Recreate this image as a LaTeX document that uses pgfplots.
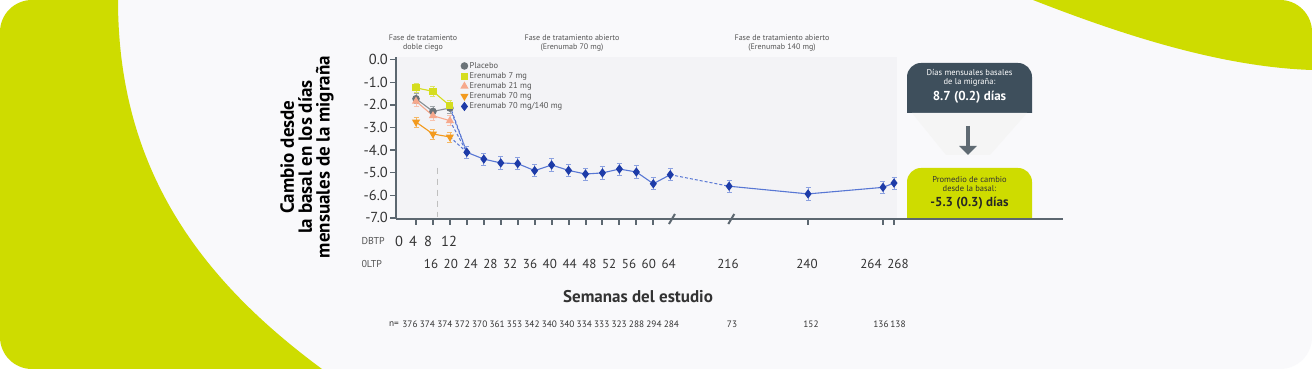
\documentclass[border=0pt]{standalone}
\usepackage{pgfplots}
\pgfplotsset{compat=1.18}
\usepackage{fontspec}
\setmainfont{PT Sans}
\usetikzlibrary{arrows.meta}
\definecolor{lime}{HTML}{CEDC00}
\definecolor{cardbg}{HTML}{F9F9FB}
\definecolor{plotbg}{HTML}{F3F3F6}
\definecolor{axisgray}{HTML}{5C6770}
\definecolor{darkbox}{HTML}{3E4F5C}
\definecolor{arrowgray}{HTML}{5F6A72}
\definecolor{txt}{HTML}{333333}
\definecolor{txtlight}{HTML}{555555}
\definecolor{placebo}{HTML}{6B7378}
\definecolor{placeboerr}{HTML}{A0A6AA}
\definecolor{sevenmg}{HTML}{D5DD1E}
\definecolor{sevenerr}{HTML}{DDE36A}
\definecolor{twentyone}{HTML}{F6A88C}
\definecolor{twentyoneerr}{HTML}{F8C2AE}
\definecolor{seventy}{HTML}{F29A1E}
\definecolor{seventyerr}{HTML}{F5B865}
\definecolor{bluemark}{HTML}{1D3BA8}
\definecolor{blueline}{HTML}{5877D4}
\definecolor{blueerr}{HTML}{8CA1E0}
\begin{document}
\begin{tikzpicture}
\begin{scope}[x=1pt,y=1pt]
\fill[white] (0,0) rectangle (1312,369);
\begin{scope}
\clip[rounded corners=32pt] (0,0) rectangle (1312,369);
\fill[cardbg] (0,0) rectangle (1312,369);
\fill[lime] (0,369) -- (118,369) .. controls (118,200) and (200,90) .. (322,0) -- (0,0) -- cycle;
\fill[lime] (1033,369) .. controls (1120,335) and (1220,302) .. (1312,299) -- (1312,369) -- cycle;
\end{scope}
\fill[plotbg] (396,150) rectangle (897,312);
% y label
\node[rotate=90, align=center, font=\fontsize{19}{17.8}\selectfont\bfseries, text=black] at (307,212) {Cambio desde\\la basal en los días\\mensuales de la migraña};
% phase titles
\begin{scope}[every node/.style={align=center, font=\fontsize{8}{8.6}\selectfont, text=txtlight}]
\node at (423,326) {Fase de tratamiento\\doble ciego};
\node at (572,326) {Fase de tratamiento abierto\\(Erenumab 70 mg)};
\node at (782,326) {Fase de tratamiento abierto\\(Erenumab 140 mg)};
\end{scope}
% x labels
\node[anchor=west, font=\fontsize{10}{10}\selectfont, text=txtlight] at (358,128) {DBTP};
\node[anchor=west, font=\fontsize{10}{10}\selectfont, text=txtlight] at (358,105) {0LTP};
\begin{scope}[every node/.style={font=\fontsize{14.5}{14.5}\selectfont, text=txt}]
\node at (399,128) {0};
\node at (413,128) {4};
\node at (428,128) {8};
\node at (449,128) {12};
\end{scope}
\begin{scope}[every node/.style={font=\fontsize{13}{13}\selectfont, text=txt}]
\foreach \v [count=\i from 0] in {16,20,24,28,32,36,40,44,48,52,56,60,64} {
  \node at ({431+19.8*\i},105) {\v};
}
\node at (728,105) {216};
\node at (807,105) {240};
\node at (871,105) {264};
\node at (898,105) {268};
\end{scope}
\node[font=\fontsize{17}{17}\selectfont\bfseries, text=txt] at (638,72) {Semanas del estudio};
\begin{scope}[every node/.style={font=\fontsize{9.3}{9.3}\selectfont, text=txt}]
\node at (394,45) {n=};
\foreach \v [count=\i from 0] in {376,374,374,372,370,361,353,342,340,340,334,333,323,288,294,284} {
  \node at ({410+17.43*\i},45) {\v};
}
\node at (732,45) {73};
\node at (811,45) {152};
\node at (881,45) {136};
\node at (898,45) {138};
\end{scope}
% boxes
\fill[darkbox] (907,256) [rounded corners=14pt]-- (907,306) -- (1032,306) [sharp corners]-- (1032,256) -- cycle;
\fill[black!4] (912,256) -- (1027,256) -- (990,214) -- (946,214) -- cycle;
\draw[arrowgray, line width=4.5pt, -{Triangle[width=17pt,length=9pt]}] (968,243) -- (968,214);
\fill[lime] (907,150) [rounded corners=14pt]-- (907,201) -- (1032,201) [sharp corners]-- (1032,150) -- cycle;
\node[align=center, text=white, font=\fontsize{8.5}{8.8}\selectfont] at (969.5,291) {Días mensuales basales\\de la migraña:};
\node[text=white, font=\fontsize{13}{13}\selectfont\bfseries] at (969.5,272) {8.7 (0.2) días};
\node[align=center, text=txt, font=\fontsize{8.5}{8.8}\selectfont] at (969.5,185) {Promedio de cambio\\desde la basal:};
\node[text=black!85, font=\fontsize{13}{13}\selectfont\bfseries] at (969.5,166) {-5.3 (0.3) días};
\end{scope}
\begin{axis}[
  at={(396pt,150pt)}, anchor=south west,
  scale only axis, width=667pt, height=161.6pt,
  xmin=-0.18, xmax=39.17, ymin=-7.05, ymax=0.1,
  axis x line*=bottom, axis y line*=left,
  axis line style={draw=axisgray, line width=2.4pt, -},
  xtick={1,2,3,4,5,6,7,8,9,10,11,12,13,14,15,24.13,28.55,29.2}, xticklabels={},
  ytick={0,-1,-2,-3,-4,-5,-6,-7},
  yticklabels={0.0,-1.0,-2.0,-3.0,-4.0,-5.0,-6.0,-7.0},
  yticklabel style={font=\fontsize{14.5}{14.5}\selectfont, text=txt, inner xsep=2pt},
  tick align=outside, major tick length=6pt,
  xtick style={draw=axisgray, line width=2pt},
  ytick style={draw=axisgray, line width=1.4pt},
  clip=false,
  legend cell align=left,
  legend style={at={(0.093,0.99)}, anchor=north west, draw=none, fill=none,
    font=\fontsize{8.5}{9}\selectfont, text=txtlight, row sep=0.6pt,
    nodes={inner ysep=1pt, inner xsep=2pt}},
  legend image code/.code={\draw[#1] plot coordinates {(0.12cm,0cm)};},
  error bars/y dir=both, error bars/y explicit,
]
% reference dashed line
\draw[black!25, line width=1pt, dash pattern=on 6pt off 5pt] (axis cs:2.25,-4.78) -- (axis cs:2.25,-6.95);
% break marks
\draw[axisgray, line width=2pt] ([xshift=-3pt,yshift=-5pt]axis cs:16.1,-7.05) -- ([xshift=3pt,yshift=5pt]axis cs:16.1,-7.05);
\draw[axisgray, line width=2pt] ([xshift=-3pt,yshift=-5pt]axis cs:19.6,-7.05) -- ([xshift=3pt,yshift=5pt]axis cs:19.6,-7.05);
% dashed connectors
\addplot[forget plot, blueline, line width=1pt, densely dashed] coordinates {(3,-2.04) (4,-4.10)};
\addplot[forget plot, blueline, line width=1pt, densely dashed] coordinates {(3,-2.14) (4,-4.10)};
\addplot[forget plot, blueline, line width=1pt, densely dashed] coordinates {(3,-2.70) (4,-4.10)};
\addplot[forget plot, blueline, line width=1pt, densely dashed] coordinates {(3,-3.42) (4,-4.10)};
\addplot[forget plot, blueline, line width=1pt, densely dashed] coordinates {(16,-5.09) (19.47,-5.60)};
% placebo
\addplot[color=placebo!80, line width=1.1pt, mark=*, mark size=3.2pt, mark options={fill=placebo, draw=placebo},
  error bars/error bar style={placeboerr, line width=0.8pt},
  error bars/error mark options={rotate=90, mark size=2.5pt, placeboerr, line width=0.8pt}]
  coordinates {(1,-1.73) +- (0,0.22) (2,-2.29) +- (0,0.22) (3,-2.14) +- (0,0.22)};
\addlegendentry{Placebo}
\addplot[color=sevenmg, line width=1.1pt, mark=square*, mark size=3pt, mark options={fill=sevenmg, draw=sevenmg},
  error bars/error bar style={sevenerr, line width=0.8pt},
  error bars/error mark options={rotate=90, mark size=2.5pt, sevenerr, line width=0.8pt}]
  coordinates {(1,-1.25) +- (0,0.22) (2,-1.40) +- (0,0.22) (3,-2.04) +- (0,0.22)};
\addlegendentry{Erenumab 7 mg}
\addplot[color=twentyone, line width=1.1pt, mark=triangle*, mark size=3.6pt, mark options={fill=twentyone, draw=twentyone},
  error bars/error bar style={twentyoneerr, line width=0.8pt},
  error bars/error mark options={rotate=90, mark size=2.5pt, twentyoneerr, line width=0.8pt}]
  coordinates {(1,-1.84) +- (0,0.22) (2,-2.48) +- (0,0.22) (3,-2.70) +- (0,0.22)};
\addlegendentry{Erenumab 21 mg}
\addplot[color=seventy, line width=1.1pt, mark=triangle*, mark size=3.6pt, mark options={rotate=180, fill=seventy, draw=seventy},
  error bars/error bar style={seventyerr, line width=0.8pt},
  error bars/error mark options={rotate=90, mark size=2.5pt, seventyerr, line width=0.8pt}]
  coordinates {(1,-2.76) +- (0,0.22) (2,-3.29) +- (0,0.22) (3,-3.42) +- (0,0.22)};
\addlegendentry{Erenumab 70 mg}
\addplot[color=blueline, line width=1.1pt, mark=diamond*, mark size=3.8pt, mark options={fill=bluemark, draw=bluemark},
  error bars/error bar style={blueerr, line width=0.8pt},
  error bars/error mark options={rotate=90, mark size=2.5pt, blueerr, line width=0.8pt}]
  coordinates {(4,-4.10) +- (0,0.27) (5,-4.40) +- (0,0.27) (6,-4.57) +- (0,0.27) (7,-4.60) +- (0,0.27)
  (8,-4.91) +- (0,0.27) (9,-4.66) +- (0,0.27) (10,-4.90) +- (0,0.27) (11,-5.06) +- (0,0.27)
  (12,-5.01) +- (0,0.27) (13,-4.84) +- (0,0.27) (14,-4.97) +- (0,0.27) (15,-5.49) +- (0,0.27) (16,-5.09) +- (0,0.27)};
\addlegendentry{Erenumab 70 mg/140 mg}
\addplot[forget plot, color=blueline, line width=1.1pt, mark=diamond*, mark size=3.8pt, mark options={fill=bluemark, draw=bluemark},
  error bars/error bar style={blueerr, line width=0.8pt},
  error bars/error mark options={rotate=90, mark size=2.5pt, blueerr, line width=0.8pt}]
  coordinates {(19.47,-5.60) +- (0,0.27) (24.13,-5.94) +- (0,0.27) (28.55,-5.65) +- (0,0.27) (29.2,-5.46) +- (0,0.27)};
\end{axis}
\end{tikzpicture}
\end{document}
